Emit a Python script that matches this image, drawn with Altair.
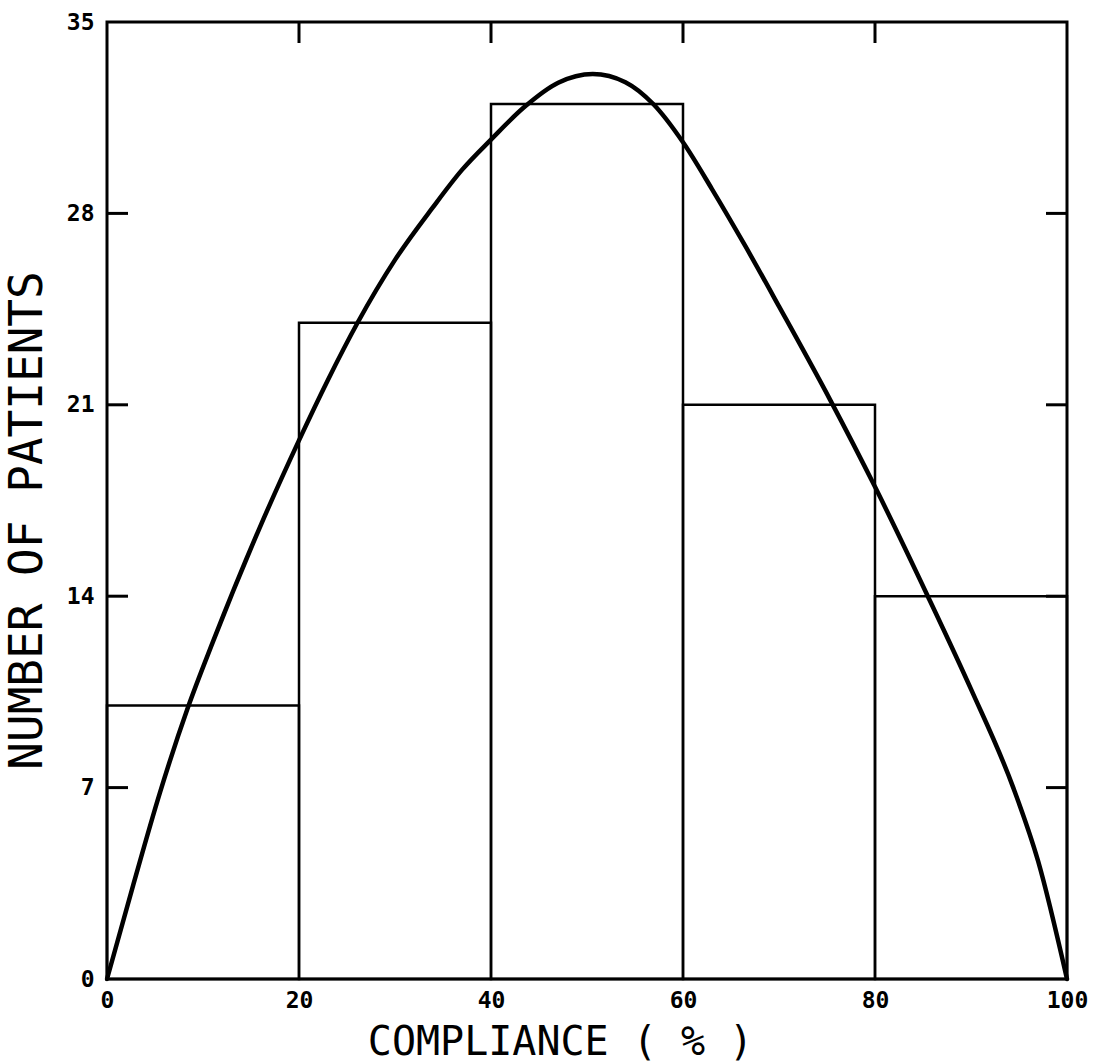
import altair as alt
import pandas as pd

# Histogram bins
bin_start = [0, 20, 40, 60, 80]
bin_end = [20, 40, 60, 80, 100]
counts = [10, 24, 32, 21, 14]

# Fitted curve
curve_x = [0, 2.7, 5.5, 8.4, 11, 15.9, 20, 23, 26.1, 30, 33.9, 37, 40, 43.5, 47, 50.6,
           54, 56.9, 60, 63, 66.5, 70, 75.3, 80, 85.5, 90, 94.4, 97, 100]
curve_y = [0, 3.4, 6.8, 9.9, 12.3, 16.5, 19.7, 21.9, 24.0, 26.3, 28.2, 29.6, 30.7, 31.9,
           32.78, 33.1, 32.8, 32.0, 30.6, 28.9, 26.8, 24.6, 21.2, 18.0, 14.0, 10.6, 7.0,
           4.3, 0]

# Axis ticks / labels
x_labels = [0, 20, 40, 60, 80, 100]
y_labels = [0, 7, 14, 21, 28, 35]
x_inner_ticks = [20, 40, 60, 80]
y_inner_ticks = [7, 14, 21, 28]

W, H = 960, 957
TICK = 21

bars_df = pd.DataFrame({"start": bin_start, "end": bin_end, "count": counts})
curve_df = pd.DataFrame({"x": curve_x, "y": curve_y})
xt_df = pd.DataFrame({"x": x_inner_ticks})
yt_df = pd.DataFrame({"y": y_inner_ticks})

xscale = alt.Scale(domain=[0, 100], nice=False, zero=False)
yscale = alt.Scale(domain=[0, 35], nice=False, zero=False)

lab_font = "DejaVu Sans Mono"
title_font = "DejaVu Sans Mono"

xaxis = alt.Axis(values=x_labels, title="COMPLIANCE ( % )", grid=False, ticks=False,
                 domain=False, labelFont=lab_font, labelFontWeight="bold",
                 labelFontSize=23, labelColor="black", labelPadding=10,
                 labelFlush=False, labelOverlap=False,
                 titleFont=title_font, titleFontSize=40, titleFontWeight="normal",
                 titleColor="black", titleX=453, titleY=75, titleBaseline="alphabetic",
                 titleAlign="center")
yaxis = alt.Axis(values=y_labels, title="NUMBER OF PATIENTS", grid=False, ticks=False,
                 domain=False, labelFont=lab_font, labelFontWeight="bold",
                 labelFontSize=23, labelColor="black", labelPadding=13,
                 labelFlush=False, labelOverlap=False,
                 titleFont=title_font, titleFontSize=46, titleFontWeight="normal",
                 titleColor="black", titleX=-80, titleY=498, titleAngle=270,
                 titleBaseline="middle", titleAlign="center")

bars = alt.Chart(bars_df).mark_rect(fill="white", fillOpacity=0, stroke="black",
                                    strokeWidth=2.5).encode(
    x=alt.X("start:Q", scale=xscale, axis=xaxis),
    x2="end:Q",
    y=alt.Y("count:Q", scale=yscale, axis=yaxis),
    y2=alt.datum(0),
)

curve = alt.Chart(curve_df).mark_line(color="black", strokeWidth=4.5,
                                      interpolate="monotone", strokeCap="round").encode(
    x=alt.X("x:Q", scale=xscale),
    y=alt.Y("y:Q", scale=yscale),
)

top_ticks = alt.Chart(xt_df).mark_rule(color="black", strokeWidth=3).encode(
    x=alt.X("x:Q", scale=xscale), y=alt.value(0), y2=alt.value(TICK))
left_ticks = alt.Chart(yt_df).mark_rule(color="black", strokeWidth=3).encode(
    y=alt.Y("y:Q", scale=yscale), x=alt.value(0), x2=alt.value(TICK))
right_ticks = alt.Chart(yt_df).mark_rule(color="black", strokeWidth=3).encode(
    y=alt.Y("y:Q", scale=yscale), x=alt.value(W), x2=alt.value(W - TICK))

chart = alt.layer(bars, curve, top_ticks, left_ticks, right_ticks).properties(
    width=W, height=H,
    autosize=alt.AutoSizeParams(type="none"),
    padding={"left": 107, "top": 22, "right": 27, "bottom": 83},
    background="white",
).configure_view(stroke="black", strokeWidth=3)

chart.save("out.html", embed_options={"renderer": "svg", "actions": False})
